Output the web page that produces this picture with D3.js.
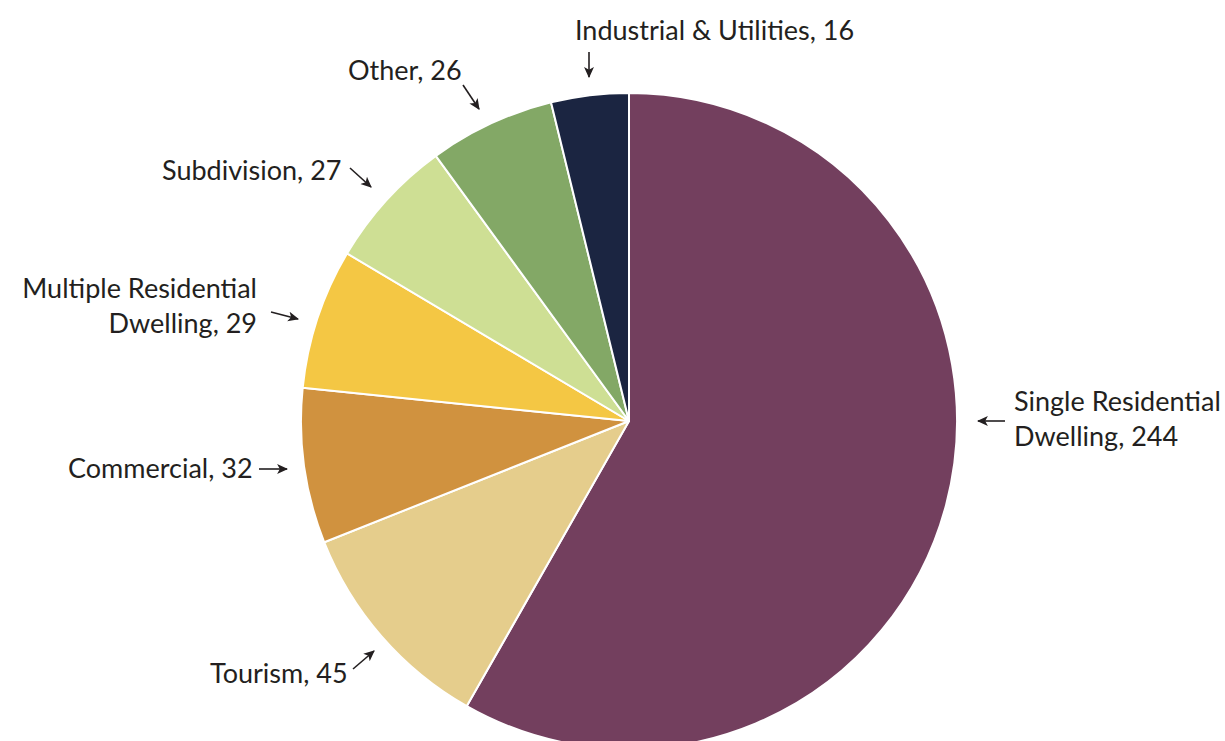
<!DOCTYPE html>
<html>
<head>
<meta charset="utf-8">
<script src="https://cdn.jsdelivr.net/npm/d3@7"></script>
<style>
  body { margin: 0; background: #fff; }
  text { font-family: Lato, "Open Sans", sans-serif; font-size: 27px; fill: #231f20; }
</style>
</head>
<body>
<div id="chart"></div>
<script>
  const categories = ["Single Residential Dwelling", "Tourism", "Commercial", "Multiple Residential Dwelling", "Subdivision", "Other", "Industrial & Utilities"];
  const values = [244, 45, 32, 29, 27, 26, 16];
  const colors = ["#733f5e", "#e5cd8c", "#d0923f", "#f4c744", "#cedf94", "#83a866", "#1b2541"];
  // label lines as drawn in the original (text split for wrapping)
  const labelLines = [
    ["Single Residential", "Dwelling, 244"],
    ["Tourism, 45"],
    ["Commercial, 32"],
    ["Multiple Residential", "Dwelling, 29"],
    ["Subdivision, 27"],
    ["Other, 26"],
    ["Industrial & Utilities, 16"]
  ];

  const width = 1225;
  const height = 741;
  const cx = 629, cy = 421, radius = 328;

  // hand placement of the labels and their little arrows
  const labelLayout = [
    { x: 1014, y: 411, anchor: "start", arrow: [1005, 421, 978, 421] },
    { x: 210, y: 683, anchor: "start", arrow: [353, 669, 374, 651] },
    { x: 68, y: 478, anchor: "start", arrow: [259, 469, 287, 469] },
    { x: 257, y: 298, anchor: "end", arrow: [271, 312, 298, 319] },
    { x: 162, y: 180, anchor: "start", arrow: [350, 168, 371, 187] },
    { x: 348, y: 80, anchor: "start", arrow: [463, 85, 479, 109] },
    { x: 575, y: 40, anchor: "start", arrow: [589, 52, 589, 77] }
  ];

  const data = categories.map((c, i) => ({ name: c, value: values[i], color: colors[i], lines: labelLines[i], layout: labelLayout[i] }));

  const svg = d3.select("#chart")
    .append("svg")
    .attr("width", width)
    .attr("height", height);

  svg.append("defs").append("marker")
    .attr("id", "arrowhead")
    .attr("viewBox", "0 0 10 10")
    .attr("refX", 9)
    .attr("refY", 5)
    .attr("markerWidth", 11)
    .attr("markerHeight", 11)
    .attr("markerUnits", "userSpaceOnUse")
    .attr("orient", "auto")
    .append("path")
    .attr("d", "M0,0.5 L10,5 L0,9.5 L2.5,5 Z")
    .attr("fill", "#231f20");

  const pie = d3.pie()
    .value(d => d.value)
    .sort(null);

  const arc = d3.arc()
    .innerRadius(0)
    .outerRadius(radius);

  const g = svg.append("g")
    .attr("transform", `translate(${cx},${cy})`);

  g.selectAll("path")
    .data(pie(data))
    .enter()
    .append("path")
    .attr("d", arc)
    .attr("fill", d => d.data.color)
    .attr("stroke", "#fff")
    .attr("stroke-width", 2)
    .attr("stroke-linejoin", "round");

  const labels = svg.append("g");
  data.forEach(d => {
    const t = labels.append("text")
      .attr("x", d.layout.x)
      .attr("y", d.layout.y)
      .attr("text-anchor", d.layout.anchor);
    d.lines.forEach((line, i) => {
      t.append("tspan")
        .attr("x", d.layout.x)
        .attr("dy", i === 0 ? 0 : 35)
        .text(line);
    });
    const a = d.layout.arrow;
    labels.append("line")
      .attr("x1", a[0]).attr("y1", a[1])
      .attr("x2", a[2]).attr("y2", a[3])
      .attr("stroke", "#231f20")
      .attr("stroke-width", 1.6)
      .attr("marker-end", "url(#arrowhead)");
  });
</script>
</body>
</html>
